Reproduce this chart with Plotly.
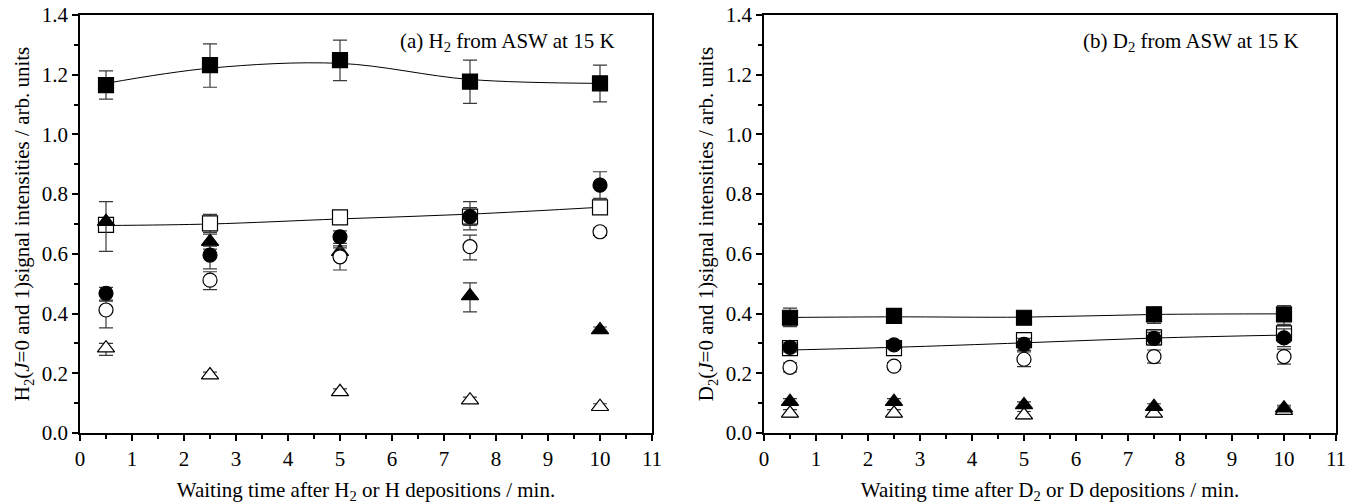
import plotly.graph_objects as go
from plotly.subplots import make_subplots

FONT = "Liberation Serif"
FS = 21
W, H = 1354, 504

waiting = [0.5, 2.5, 5, 7.5, 10]
x_ticks = list(range(0, 12))
y_ticks = [0.0, 0.2, 0.4, 0.6, 0.8, 1.0, 1.2, 1.4]
y_tick_text = ["0.0", "0.2", "0.4", "0.6", "0.8", "1.0", "1.2", "1.4"]

# (a) H2 from ASW
a_sq_fill = [1.165, 1.232, 1.249, 1.177, 1.171]
a_sq_fill_up = [0.048, 0.071, 0.067, 0.072, 0.061]
a_sq_fill_dn = [0.047, 0.074, 0.069, 0.073, 0.062]
a_sq_fill_fit = [1.171, 1.222, 1.238, 1.184, 1.171]

a_sq_open = [0.697, 0.702, 0.722, 0.725, 0.756]
a_sq_open_up = [0.015, 0.03, 0.01, 0.03, 0.015]
a_sq_open_dn = [0.015, 0.03, 0.01, 0.03, 0.015]
a_sq_open_fit = [0.695, 0.700, 0.717, 0.733, 0.756]

a_ci_fill = [0.468, 0.596, 0.657, 0.725, 0.830]
a_ci_fill_up = [0.020, 0.030, 0.020, 0.050, 0.045]
a_ci_fill_dn = [0.023, 0.046, 0.022, 0.045, 0.044]

a_ci_open = [0.412, 0.512, 0.590, 0.624, 0.674]
a_ci_open_up = [0.030, 0.028, 0.030, 0.039, 0.012]
a_ci_open_dn = [0.060, 0.032, 0.044, 0.044, 0.012]

a_tr_fill = [0.708, 0.641, 0.607, 0.459, 0.345]
a_tr_fill_up = [0.067, 0.025, 0.020, 0.044, 0.010]
a_tr_fill_dn = [0.100, 0.025, 0.020, 0.053, 0.010]

a_tr_open = [0.284, 0.194, 0.138, 0.110, 0.088]
a_tr_open_up = [0.016, 0.010, 0.010, 0.010, 0.010]
a_tr_open_dn = [0.024, 0.010, 0.010, 0.010, 0.010]

# (b) D2 from ASW
b_sq_fill = [0.386, 0.392, 0.386, 0.397, 0.397]
b_sq_fill_up = [0.032, 0.012, 0.012, 0.025, 0.030]
b_sq_fill_dn = [0.030, 0.012, 0.012, 0.030, 0.035]
b_sq_fill_fit = [0.387, 0.389, 0.388, 0.397, 0.399]

b_sq_open = [0.284, 0.284, 0.311, 0.320, 0.334]
b_sq_open_up = [0.022, 0.015, 0.023, 0.025, 0.030]
b_sq_open_dn = [0.022, 0.015, 0.023, 0.025, 0.030]
b_sq_open_fit = [0.278, 0.287, 0.302, 0.318, 0.328]

b_ci_fill = [0.287, 0.295, 0.297, 0.317, 0.319]
b_ci_fill_up = [0.015, 0.012, 0.020, 0.020, 0.030]
b_ci_fill_dn = [0.015, 0.012, 0.020, 0.020, 0.030]

b_ci_open = [0.220, 0.224, 0.247, 0.256, 0.256]
b_ci_open_up = [0.015, 0.012, 0.025, 0.022, 0.025]
b_ci_open_dn = [0.015, 0.012, 0.025, 0.022, 0.025]

b_tr_fill = [0.105, 0.105, 0.094, 0.088, 0.083]
b_tr_fill_up = [0.010, 0.010, 0.010, 0.010, 0.010]
b_tr_fill_dn = [0.010, 0.010, 0.010, 0.010, 0.010]

b_tr_open = [0.066, 0.066, 0.060, 0.066, 0.075]
b_tr_open_up = [0.012, 0.012, 0.012, 0.012, 0.012]
b_tr_open_dn = [0.012, 0.012, 0.012, 0.012, 0.012]


def fit_line(fig, y, col):
    fig.add_trace(go.Scatter(x=waiting, y=y, mode="lines",
                             line=dict(color="black", width=1, shape="spline"),
                             showlegend=False, hoverinfo="skip"), row=1, col=col)


def points(fig, y, up, dn, symbol, filled, size, col):
    fig.add_trace(go.Scatter(
        x=waiting, y=y, mode="markers",
        marker=dict(symbol=symbol, size=size,
                    color="black" if filled else "white",
                    line=dict(color="black", width=1.2)),
        error_y=dict(type="data", symmetric=False, array=up, arrayminus=dn,
                     color="#3a3a3a", thickness=1.2, width=7),
        showlegend=False), row=1, col=col)


fig = make_subplots(rows=1, cols=2)

fit_line(fig, a_sq_fill_fit, 1)
fit_line(fig, a_sq_open_fit, 1)
points(fig, a_sq_fill, a_sq_fill_up, a_sq_fill_dn, "square", True, 15, 1)
points(fig, a_sq_open, a_sq_open_up, a_sq_open_dn, "square", False, 15, 1)
points(fig, a_tr_open, a_tr_open_up, a_tr_open_dn, "triangle-up", False, 15, 1)
points(fig, a_tr_fill, a_tr_fill_up, a_tr_fill_dn, "triangle-up", True, 15, 1)
points(fig, a_ci_open, a_ci_open_up, a_ci_open_dn, "circle", False, 14, 1)
points(fig, a_ci_fill, a_ci_fill_up, a_ci_fill_dn, "circle", True, 14, 1)

fit_line(fig, b_sq_fill_fit, 2)
fit_line(fig, b_sq_open_fit, 2)
points(fig, b_sq_fill, b_sq_fill_up, b_sq_fill_dn, "square", True, 15, 2)
points(fig, b_sq_open, b_sq_open_up, b_sq_open_dn, "square", False, 15, 2)
points(fig, b_tr_open, b_tr_open_up, b_tr_open_dn, "triangle-up", False, 15, 2)
points(fig, b_tr_fill, b_tr_fill_up, b_tr_fill_dn, "triangle-up", True, 15, 2)
points(fig, b_ci_open, b_ci_open_up, b_ci_open_dn, "circle", False, 14, 2)
points(fig, b_ci_fill, b_ci_fill_up, b_ci_fill_dn, "circle", True, 14, 2)

tick_font = dict(family=FONT, size=FS, color="black")
title_font = dict(family=FONT, size=FS, color="black")

axis_common = dict(showgrid=False, zeroline=False, showline=True, linecolor="black",
                   linewidth=1.5, mirror=True, ticks="outside", ticklen=6,
                   tickwidth=1.5, tickcolor="black", tickfont=tick_font,
                   ticklabeloverflow="allow", automargin=False)

fig.update_xaxes(range=[0, 11], tickvals=x_ticks,
                 minor=dict(ticks="outside", dtick=0.5, ticklen=4, tickwidth=1.5,
                            tickcolor="black"),
                 **axis_common)
fig.update_yaxes(range=[0, 1.4], tickvals=y_ticks, ticktext=y_tick_text,
                 minor=dict(ticks="outside", dtick=0.1, ticklen=4, tickwidth=1.5,
                            tickcolor="black"),
                 **axis_common)

left_dom = [80 / W, 652 / W]
right_dom = [764 / W, 1336 / W]

fig.update_xaxes(domain=left_dom, row=1, col=1,
                 title=dict(text="Waiting time after H<sub>2</sub> or H depositions / min.",
                            font=title_font, standoff=14))
fig.update_xaxes(domain=right_dom, row=1, col=2,
                 title=dict(text="Waiting time after D<sub>2</sub> or D depositions / min.",
                            font=title_font, standoff=14))
fig.update_yaxes(row=1, col=1,
                 title=dict(text="H<sub>2</sub>(<i>J</i>=0 and 1)signal intensities / arb. units",
                            font=title_font, standoff=6))
fig.update_yaxes(row=1, col=2,
                 title=dict(text="D<sub>2</sub>(<i>J</i>=0 and 1)signal intensities / arb. units",
                            font=title_font, standoff=6))

# top and right frame axes with inward ticks
inner = dict(showgrid=False, zeroline=False, showline=False, ticks="inside",
             ticklen=7, tickwidth=1.5, tickcolor="black", showticklabels=False,
             automargin=False)
fig.update_layout(
    xaxis3=dict(overlaying="x", anchor="y", side="top", range=[0, 11], tickvals=x_ticks,
                minor=dict(ticks="inside", dtick=0.5, ticklen=6, tickwidth=1.5,
                           tickcolor="black"), **inner),
    xaxis4=dict(overlaying="x2", anchor="y2", side="top", range=[0, 11], tickvals=x_ticks,
                minor=dict(ticks="inside", dtick=0.5, ticklen=6, tickwidth=1.5,
                           tickcolor="black"), **inner),
    yaxis3=dict(overlaying="y", anchor="x", side="right", range=[0, 1.4], tickvals=y_ticks,
                minor=dict(ticks="inside", dtick=0.1, ticklen=5, tickwidth=1.5,
                           tickcolor="black"), **inner),
    yaxis4=dict(overlaying="y2", anchor="x2", side="right", range=[0, 1.4], tickvals=y_ticks,
                minor=dict(ticks="inside", dtick=0.1, ticklen=5, tickwidth=1.5,
                           tickcolor="black"), **inner),
)

fig.add_annotation(x=10.33, y=1.31, xref="x", yref="y", xanchor="right", yanchor="middle",
                   text="(a) H<sub>2</sub> from ASW at 15 K", showarrow=False,
                   font=title_font)
fig.add_annotation(x=10.33, y=1.31, xref="x2", yref="y2", xanchor="right", yanchor="middle",
                   text="(b) D<sub>2</sub> from ASW at 15 K", showarrow=False,
                   font=title_font)

fig.update_layout(width=W, height=H, plot_bgcolor="white", paper_bgcolor="white",
                  margin=dict(l=0, r=0, t=15, b=71), showlegend=False)

fig.write_html("out.html", config={"displayModeBar": False},
               post_script="document.body.style.margin = '0';")
